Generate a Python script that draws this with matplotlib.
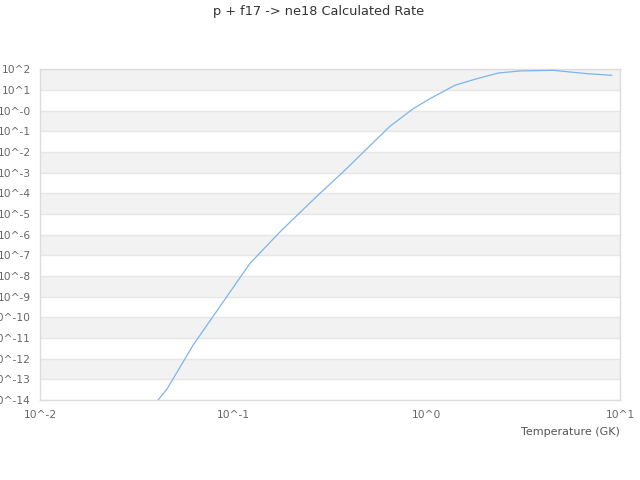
import matplotlib
matplotlib.use("Agg")
import matplotlib.pyplot as plt
import numpy as np

# temperature (GK) and rate
temperature = [0.0408, 0.0454, 0.0621, 0.0925, 0.122, 0.178, 0.280, 0.371,
               0.534, 0.646, 0.853, 1.04, 1.40, 1.82, 2.35, 3.04, 4.52,
               6.73, 9.06]
rate = [1.0e-14, 3.4e-14, 4.7e-12, 1.0e-9, 4.1e-8, 1.66e-6, 9.8e-5, 1.12e-3,
        3.1e-2, 0.176, 1.25, 3.79, 16.9, 35.2, 66.2, 83.2, 89.1, 61.7, 51.3]

x_ticks = [0.01, 0.1, 1, 10]
x_tick_labels = ["10^-2", "10^-1", "10^0", "10^1"]
y_exponents = list(range(-14, 3))
y_tick_labels = ["10^-14", "10^-13", "10^-12", "10^-11", "10^-10", "10^-9",
                 "10^-8", "10^-7", "10^-6", "10^-5", "10^-4", "10^-3",
                 "10^-2", "10^-1", "10^-0", "10^1", "10^2"]

title = "p + f17 -> ne18 Calculated Rate"
x_label = "Temperature (GK)"

fig = plt.figure(figsize=(6.4, 4.8), dpi=100)
ax = fig.add_axes([40 / 640, 1 - 400 / 480, 580 / 640, 330.7 / 480])

ax.set_xscale("log")
ax.set_yscale("log")
ax.set_xlim(0.01, 10)
ax.set_ylim(1e-14, 1e2)

# alternating bands, grey where the lower edge is an odd power
for e in y_exponents[:-1]:
    if e % 2 != 0:
        ax.axhspan(10.0 ** e, 10.0 ** (e + 1), color="#f2f2f2", lw=0, zorder=0)
for e in y_exponents:
    ax.axhline(10.0 ** e, color="#e6e6e6", lw=1, zorder=1)

ax.plot(temperature, rate, color="#7cb5ec", lw=0.9, zorder=3)

ax.set_xticks(x_ticks)
ax.set_xticklabels(x_tick_labels)
ax.set_yticks([10.0 ** e for e in y_exponents])
ax.set_yticklabels(y_tick_labels)
ax.minorticks_off()
ax.tick_params(axis="both", length=0, labelsize=7.7, colors="#666666")
ax.tick_params(axis="y", pad=6.5)
ax.tick_params(axis="x", pad=7)

for side in ["left", "right", "bottom", "top"]:
    ax.spines[side].set_color("#dcdcdc")
    ax.spines[side].set_linewidth(1)

ax.set_xlabel(x_label, loc="right", fontsize=8, color="#555555", labelpad=5)
fig.text(0.497, 0.975, title, ha="center", va="center", fontsize=9.3,
         color="#333333")

fig.savefig("out.png", dpi=100)
